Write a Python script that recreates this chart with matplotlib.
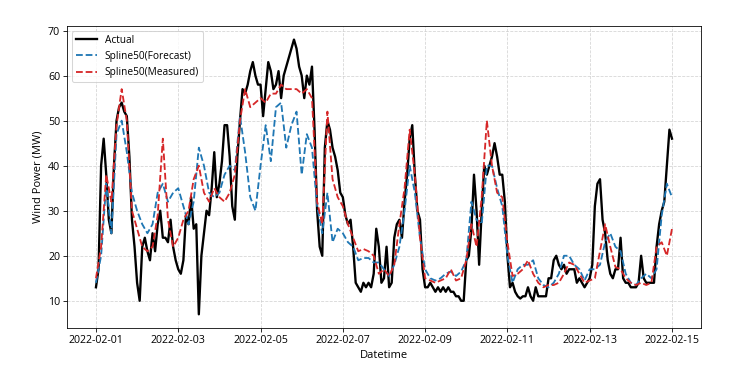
import pandas as pd
import matplotlib
matplotlib.use("Agg")
import matplotlib.pyplot as plt
import matplotlib.dates as mdates

plt.rcParams['font.family'] = ['Open Sans', 'DejaVu Sans']

# Actual: 1.5-hourly readings, 2022-02-01 00:00 .. 2022-02-15 00:00 (one row per day)
actual = [
    13, 17, 40, 46, 38, 28, 25, 40, 50, 53, 54, 52, 51, 42, 28, 22,
    14, 10, 22, 24, 21, 19, 25, 21, 27, 30, 24, 24, 23, 28, 22, 19,
    17, 16, 19, 29, 27, 33, 26, 27, 7, 20, 25, 30, 29, 35, 43, 33,
    36, 41, 49, 49, 42, 31, 28, 42, 50, 57, 56, 58, 61, 63, 60, 58,
    58, 51, 57, 63, 61, 57, 58, 61, 55, 60, 62, 64, 66, 68, 66, 62,
    60, 55, 60, 58, 62, 48, 30, 22, 20, 44, 50, 48, 44, 42, 39, 34,
    33, 29, 27, 28, 22, 14, 13, 12, 14, 13, 14, 13, 16, 26, 22, 14,
    15, 22, 13, 14, 24, 27, 28, 24, 32, 38, 46, 49, 38, 30, 28, 17,
    13, 13, 14, 13, 12, 13, 12, 13, 12, 13, 12, 12, 11, 11, 10, 10,
    19, 20, 26, 38, 30, 18, 30, 40, 38, 40, 42, 45, 42, 38, 38, 32,
    20, 13, 14, 12, 11, 10.5, 11, 11, 13, 11, 10, 13, 11, 11, 11, 11,
    15, 15, 19, 20, 18, 17, 18, 16, 17, 17, 17, 14, 15, 14, 13, 14,
    15, 18, 31, 36, 37, 28, 25, 19, 16, 15, 17, 17, 24, 15, 14, 14,
    13, 13, 13, 14, 20, 15, 14, 14, 14, 14, 22, 27, 30, 32, 40, 48,
    46,
]
# Spline50 curves: 3-hourly readings (one row per day)
forecast = [
    14, 20, 36, 25, 47, 50, 43, 34,
    30, 27, 25, 27, 34, 36, 32, 34,
    35, 31, 27, 32, 44, 40, 34, 33,
    34, 38, 40, 39, 51, 43, 33, 30,
    40, 49, 41, 53, 54, 44, 49, 52,
    38, 47, 44, 31, 25, 34, 23, 26,
    25, 23, 22, 19, 19.5, 19.5, 18.5, 18.5,
    17, 15.5, 18, 22, 30, 40, 34, 24,
    17, 15, 14.5, 15, 16, 16.5, 15.5, 16.5,
    19, 32, 28, 27, 40, 40, 35, 31,
    20, 14, 17, 18, 18, 19, 15, 13.5,
    13, 14, 16, 20, 20, 18, 17, 14.5,
    17, 17, 18, 23, 25, 22, 21, 16,
    14, 13.5, 15, 16, 15, 17, 29, 36,
    33,
]
measured = [
    15, 22, 38, 32, 49, 57, 50, 30,
    26, 22, 21, 22, 29, 46, 28, 22,
    24, 28, 30, 37, 40, 34, 32, 35,
    33, 32, 34, 38, 50, 57, 53, 54,
    55, 54, 56, 56, 58, 57, 57, 57,
    56, 57, 55, 32, 27, 52, 37, 33,
    31, 27, 24, 21, 21.5, 21, 20, 16,
    17, 15.5, 18, 27, 35, 48, 38, 24,
    15, 14.5, 14, 14.5, 15, 17, 14.5, 15,
    19, 27, 22, 33, 50, 40, 34, 33,
    23, 15.5, 16, 17, 19, 16, 14, 13,
    13.5, 13.5, 14, 16, 18.5, 18, 16, 14,
    14.5, 15, 21, 27, 22, 17.5, 17, 15,
    14, 13.5, 14, 13.5, 14, 22, 23, 20,
    26,
]
t_actual = pd.date_range('2022-02-01 00:00', '2022-02-15 00:00', freq='90min')
t_spline = pd.date_range('2022-02-01 00:00', '2022-02-15 00:00', freq='3h')

fig = plt.figure(figsize=(10, 5.22), dpi=73)
ax = fig.add_axes([0.092, 0.139, 0.868, 0.793])

ax.plot(t_actual, actual, color='black', linewidth=2.3, label='Actual')
ax.plot(t_spline, forecast, color='#1f77b4', linestyle='--',
        linewidth=1.8, label='Spline50(Forecast)')
ax.plot(t_spline, measured, color='#d62728', linestyle='--',
        linewidth=1.8, label='Spline50(Measured)')

ax.xaxis.set_major_locator(mdates.DayLocator(bymonthday=range(1, 32, 2)))
ax.xaxis.set_major_formatter(mdates.DateFormatter('%Y-%m-%d'))
ax.set_xlabel('Datetime', fontsize=11)
ax.set_ylabel('Wind Power (MW)', fontsize=11)
ax.tick_params(labelsize=10.5)
ax.grid(True, linestyle='--', color='#cccccc', alpha=0.8)
ax.legend(loc='upper left', fontsize=10)

plt.savefig('out.png', dpi=73)
